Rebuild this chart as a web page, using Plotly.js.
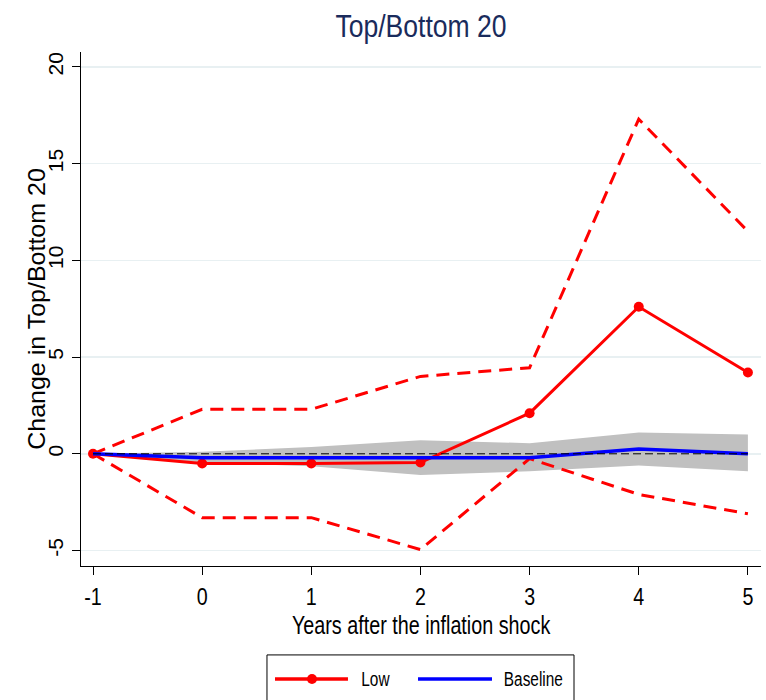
<!DOCTYPE html>
<html>
<head>
<meta charset="utf-8">
<script src="https://cdn.plot.ly/plotly-3.0.1.min.js"></script>
<style>
  html, body { margin: 0; padding: 0; background: #ffffff; }
  #chart { width: 766px; height: 700px; }
</style>
</head>
<body>
<div id="chart"></div>
<script>
// Years relative to the inflation shock
const years = [-1, 0, 1, 2, 3, 4, 5];

// "Low" response of the Top/Bottom 20 ratio with its confidence bounds
const lowEstimate = [0, -0.5, -0.5, -0.45, 2.1, 7.6, 4.2];
const lowUpper    = [0, 2.3, 2.3, 4.0, 4.45, 17.3, 11.5];
const lowLower    = [0, -3.3, -3.3, -4.95, -0.25, -2.1, -3.1];

// Baseline response and its shaded band
const baseEstimate = [0, -0.2, -0.2, -0.2, -0.2, 0.25, 0.0];
const baseUpper    = [0, 0.1, 0.35, 0.7, 0.55, 1.1, 1.0];
const baseLower    = [0, -0.45, -0.65, -1.1, -0.9, -0.6, -0.9];

const yTicks = [-5, 0, 5, 10, 15, 20];
const yTickText = ['-5', '0', '5', '10', '15', '20'];

const seriesNames = ['Low', 'Baseline'];
const seriesColors = ['#ff0000', '#0000ff'];

const FONT = '"Liberation Sans", Arial, Helvetica, sans-serif';

const traces = [
  // Shaded band for the baseline
  {
    x: years, y: baseUpper, mode: 'lines', line: {width: 0, color: '#c0c0c0'},
    hoverinfo: 'skip', showlegend: false
  },
  {
    x: years, y: baseLower, mode: 'lines', line: {width: 0, color: '#c0c0c0'},
    fill: 'tonexty', fillcolor: '#c0c0c0', hoverinfo: 'skip', showlegend: false
  },
  // Confidence bounds for "Low"
  {
    x: years, y: lowUpper, mode: 'lines',
    line: {color: seriesColors[0], width: 3, dash: '13px,8px'}, showlegend: false
  },
  {
    x: years, y: lowLower, mode: 'lines',
    line: {color: seriesColors[0], width: 3, dash: '13px,8px'}, showlegend: false
  },
  // Point estimates
  {
    x: years, y: lowEstimate, mode: 'lines+markers', name: seriesNames[0],
    line: {color: seriesColors[0], width: 3}, marker: {color: seriesColors[0], size: 10},
    showlegend: false
  },
  {
    x: years, y: baseEstimate, mode: 'lines', name: seriesNames[1],
    line: {color: seriesColors[1], width: 3.5}, showlegend: false
  },
  // Zero reference line
  {
    x: [years[0], years[years.length - 1]], y: [0, 0], mode: 'lines',
    line: {color: '#000000', width: 1, dash: '8px,4px'}, showlegend: false, hoverinfo: 'skip'
  }
];

// Legend box below the axis, built from shapes and annotations (paper coordinates)
const legY = -0.2198;
const legendShapes = [
  {type: 'rect', xref: 'paper', yref: 'paper', x0: 0.2735, x1: 0.725, y0: -0.173, y1: -0.29,
   line: {color: '#000000', width: 1}, fillcolor: '#ffffff', layer: 'above'},
  {type: 'line', xref: 'paper', yref: 'paper', x0: 0.2853, x1: 0.3926, y0: legY, y1: legY,
   line: {color: seriesColors[0], width: 3.5}},
  {type: 'circle', xref: 'paper', yref: 'paper', xsizemode: 'pixel', ysizemode: 'pixel',
   xanchor: 0.3397, yanchor: legY, x0: -5, x1: 5, y0: -5, y1: 5,
   line: {width: 0}, fillcolor: seriesColors[0]},
  {type: 'line', xref: 'paper', yref: 'paper', x0: 0.4956, x1: 0.6044, y0: legY, y1: legY,
   line: {color: seriesColors[1], width: 3.5}}
];
const legendLabels = [
  {text: seriesNames[0], xref: 'paper', yref: 'paper', x: 0.4324, y: legY, showarrow: false,
   xanchor: 'center', yanchor: 'middle', font: {family: FONT, size: 20, color: '#000000'}},
  {text: seriesNames[1], xref: 'paper', yref: 'paper', x: 0.6654, y: legY, showarrow: false,
   xanchor: 'center', yanchor: 'middle', font: {family: FONT, size: 20, color: '#000000'}}
];

const layout = {
  width: 766,
  height: 700,
  paper_bgcolor: '#ffffff',
  plot_bgcolor: '#ffffff',
  margin: {l: 81, r: 5, t: 52, b: 134},
  font: {family: FONT, color: '#000000', size: 23},
  showlegend: false,
  title: {
    text: 'Top/Bottom 20',
    font: {family: FONT, size: 32, color: '#1a2b5c'},
    x: 0.5, xref: 'paper', xanchor: 'center',
    y: 0.963, yref: 'container', yanchor: 'middle'
  },
  xaxis: {
    range: [-1.11, 5.12],
    tickmode: 'array',
    tickvals: years,
    ticktext: years.map(String),
    ticks: 'outside', ticklen: 8, tickwidth: 1, tickcolor: '#000000',
    ticklabelstandoff: 1,
    showline: true, linecolor: '#000000', linewidth: 1,
    showgrid: false, zeroline: false,
    tickfont: {family: FONT, size: 24, color: '#000000'},
    title: {text: 'Years after the inflation shock', font: {family: FONT, size: 26, color: '#000000'}, standoff: 0}
  },
  yaxis: {
    range: [-5.8, 20.77],
    tickmode: 'array',
    tickvals: yTicks,
    ticktext: yTickText,
    tickangle: -90,
    ticks: 'outside', ticklen: 8, tickwidth: 1, tickcolor: '#000000',
    showline: true, linecolor: '#000000', linewidth: 1,
    showgrid: true, gridcolor: '#e8f0f2', gridwidth: 1.5,
    zeroline: false,
    tickfont: {family: FONT, size: 21, color: '#000000'},
    title: {text: 'Change in Top/Bottom 20', font: {family: FONT, size: 25, color: '#000000'}, standoff: 2}
  },
  shapes: legendShapes,
  annotations: legendLabels
};

// Horizontally squeeze text elements about their on-screen centre
function squeezeX(gd, selector, factor) {
  const svgRect = gd.querySelector('svg.main-svg').getBoundingClientRect();
  gd.querySelectorAll(selector).forEach(function (t) {
    if (!t.textContent.trim()) return;
    const r = t.getBoundingClientRect();
    const sx = r.left - svgRect.left + r.width / 2;
    const pm = t.parentNode.getCTM();
    const cx = (sx - pm.e) / pm.a;
    const prev = t.getAttribute('transform') || '';
    t.setAttribute('transform',
      'translate(' + cx + ',0) scale(' + factor + ',1) translate(' + (-cx) + ',0) ' + prev);
  });
}

// Move the vertical axis title so that its centre sits at a given x (px)
function placeYTitle(gd, centreX) {
  const t = gd.querySelector('text.ytitle');
  if (!t) return;
  const svgLeft = gd.querySelector('svg.main-svg').getBoundingClientRect().left;
  const r = t.getBoundingClientRect();
  const dx = centreX - (r.left - svgLeft + r.width / 2);
  t.setAttribute('transform', 'translate(' + dx + ',0) ' + (t.getAttribute('transform') || ''));
}

Plotly.newPlot('chart', traces, layout, {displayModeBar: false, staticPlot: true})
  .then(function (gd) {
    squeezeX(gd, 'text.gtitle', 0.83);
    squeezeX(gd, '.xtick text', 0.82);
    squeezeX(gd, 'text.xtitle', 0.76);
    squeezeX(gd, '.annotation-text', 0.77);
    squeezeX(gd, '.ytick text', 0.95);
    squeezeX(gd, 'text.ytitle', 0.92);
    placeYTitle(gd, 37);
  });
</script>
</body>
</html>
